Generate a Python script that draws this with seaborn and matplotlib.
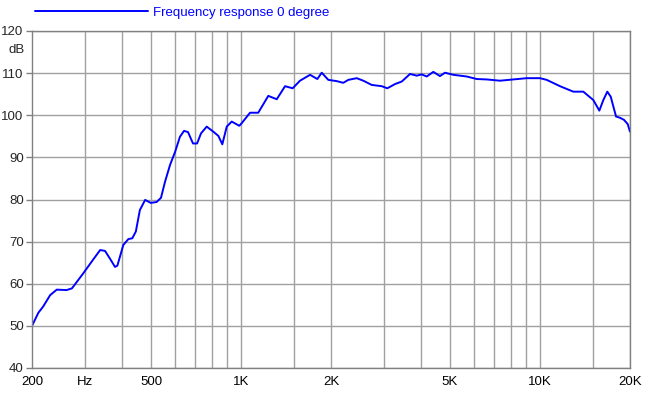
import numpy as np
import pandas as pd
import matplotlib
matplotlib.use("Agg")
import matplotlib.pyplot as plt
import seaborn as sns

# frequency response (Hz, dB)
freq_hz = [200, 210, 218, 230, 242, 261, 272, 297, 317, 338, 351, 365, 379, 386,
           404, 420, 433, 445, 459, 478, 499, 522, 540, 557, 579, 602, 625, 645,
           665, 691, 713, 735, 768, 808, 840, 866, 896, 931, 987, 1005, 1072, 1142,
           1234, 1317, 1404, 1489, 1575, 1702, 1800, 1862, 1959, 2090, 2198, 2286,
           2438, 2565, 2736, 2955, 3086, 3274, 3448, 3676, 3870, 4022, 4181, 4398,
           4628, 4812, 5131, 5685, 6143, 6635, 7350, 8142, 9023, 10000, 10530,
           11666, 12924, 13962, 15082, 15792, 16286, 16794, 17242, 17962, 18520,
           19100, 19650, 20000]
level_db = [50.0, 53.1, 54.6, 57.3, 58.6, 58.5, 58.9, 62.5, 65.3, 68.0, 67.8, 65.9,
            64.0, 64.3, 69.2, 70.6, 70.8, 72.4, 77.5, 79.9, 79.2, 79.4, 80.4, 84.2,
            88.2, 91.3, 94.9, 96.3, 96.0, 93.3, 93.3, 95.7, 97.3, 96.1, 95.1, 93.1,
            97.3, 98.5, 97.5, 98.1, 100.6, 100.6, 104.6, 103.8, 106.9, 106.4, 108.2,
            109.6, 108.6, 110.1, 108.4, 108.1, 107.7, 108.4, 108.8, 108.2, 107.2,
            106.9, 106.4, 107.4, 108.0, 109.8, 109.4, 109.7, 109.2, 110.3, 109.3,
            110.1, 109.6, 109.2, 108.6, 108.5, 108.2, 108.5, 108.8, 108.8, 108.4,
            106.9, 105.6, 105.6, 103.6, 101.1, 103.6, 105.6, 104.4, 99.7, 99.4,
            98.9, 97.9, 96.1]

grid_freqs = [300, 400, 500, 600, 700, 800, 900, 1000, 1500, 2000, 3000, 4000,
              5000, 6000, 7000, 8000, 9000, 10000, 15000, 20000]
x_tick_vals = [200, 300, 500, 1000, 2000, 5000, 10000, 20000]
x_tick_labels = ["200", "Hz", "500", "1K", "2K", "5K", "10K", "20K"]
y_ticks = list(range(40, 121, 10))

df = pd.DataFrame({"Hz": freq_hz, "dB": level_db})

sns.set_style("white")
plt.rcParams["font.family"] = ["Liberation Sans", "DejaVu Sans"]

fig = plt.figure(figsize=(6.5, 3.94), dpi=100)
ax = fig.add_axes([32 / 650, 1 - 368 / 394, 598 / 650, 337 / 394])

sns.lineplot(data=df, x="Hz", y="dB", color="#0000ff", linewidth=1.4,
             label="Frequency response 0 degree", ax=ax)

ax.set_xscale("log")
ax.set_xlim(200, 20000)
ax.set_ylim(40, 120)

# grid
for f in grid_freqs:
    ax.axvline(f, color="#a0a0a0", linewidth=1.0, zorder=0)
for y in y_ticks:
    ax.axhline(y, color="#a0a0a0", linewidth=1.0, zorder=0)

ax.xaxis.set_minor_locator(matplotlib.ticker.NullLocator())
ax.set_xticks(x_tick_vals)
ax.set_xticklabels(x_tick_labels)
ax.set_yticks(y_ticks)
ax.tick_params(axis="x", length=0, pad=6, labelsize=9.5, colors="black")
ax.tick_params(axis="y", length=4, width=1, color="#808080", pad=2,
               labelsize=9.5, left=True)
ax.set_xlabel("")
ax.set_ylabel("")

for side in ["left", "bottom", "top", "right"]:
    ax.spines[side].set_color("#808080")
    ax.spines[side].set_linewidth(1.0)

ax.text(-0.012, 115.6, "dB", transform=ax.get_yaxis_transform(), ha="right",
        va="center", fontsize=9.5)

ax.legend(loc="center left", bbox_to_anchor=(35 / 650, 1 - 13 / 394),
          bbox_transform=fig.transFigure, frameon=False, handlelength=8.6,
          handletextpad=0.35, borderpad=0, borderaxespad=0, fontsize=9.5,
          labelcolor="#0000ff")

fig.savefig("out.png", dpi=100)
